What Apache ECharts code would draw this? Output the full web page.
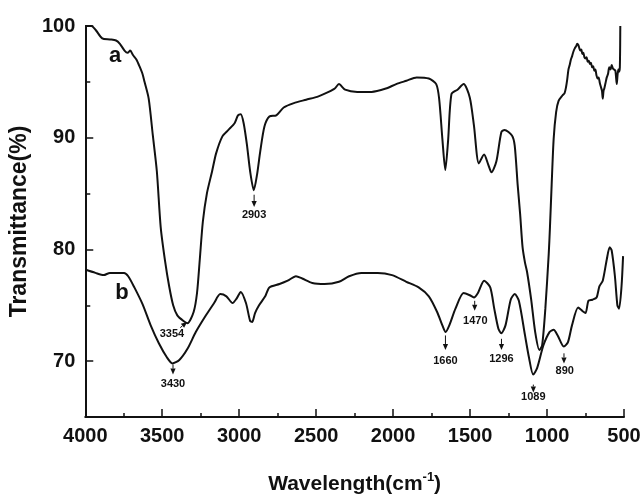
<!DOCTYPE html>
<html>
<head>
<meta charset="utf-8">
<script src="https://cdn.jsdelivr.net/npm/echarts@6/dist/echarts.min.js"></script>
<style>html,body{margin:0;padding:0;background:#fff}#c{width:644px;height:500px}</style>
</head>
<body>
<div id="c"></div>
<script>
// ---- data ----
var aWave = [4000,3960,3930,3890,3840,3800,3775,3745,3725,3708,3690,3668,3648,3628,3615,3588,3561,3535,3510,3482,3455,3429,3402,3362,3336,3296,3274,3256,3236,3210,3176,3150,3110,3070,3030,3008,2990,2971,2950,2929,2905,2884,2863,2836,2804,2759,2711,2645,2565,2485,2419,2379,2352,2312,2233,2140,2047,1980,1914,1847,1768,1720,1701,1680,1661,1643,1621,1582,1542,1502,1475,1443,1409,1382,1361,1329,1297,1276,1228,1210,1191,1175,1159,1143,1130,1103,1077,1050,1032,1011,989,981,970,957,941,925,899,886,877,869,861,853,845,837,829,820,811,804,797,790,784,777,771,764,757,750,743,736,729,722,715,707,700,693,686,679,672,665,657,649,643,638,633,628,620,612,604,596,588,580,572,564,556,547,542,537,532,527,524];
var aVal  = [100,100,99.6,98.9,98.8,98.7,98.4,97.8,97.6,97.8,97.4,97.0,96.4,95.7,95.0,93.5,90.2,87.0,82.0,79.0,76.7,75.0,74.1,73.6,73.4,74.4,76.1,79.1,82.5,85.0,87.0,88.6,90.1,90.7,91.3,92.0,92.1,91.3,89.4,87.0,85.3,86.7,88.8,91.0,91.9,92.0,92.7,93.1,93.4,93.7,94.1,94.4,94.8,94.3,94.1,94.1,94.4,94.8,95.1,95.4,95.3,94.8,93.5,89.9,87.1,89.7,93.9,94.3,94.8,93.6,91.1,87.7,88.5,87.6,86.9,87.9,90.5,90.7,90.2,89.3,85.8,83.2,80.2,78.8,78.0,75.5,72.6,71.0,71.4,74.7,79.6,82.0,85.8,89.9,92.3,93.3,93.8,94.0,94.5,95.2,96.1,96.5,97.0,97.3,97.7,98.0,98.2,98.4,98.3,98.0,97.8,97.9,97.5,97.6,97.2,97.1,97.2,96.8,96.9,96.6,96.7,96.3,96.4,96.0,96.1,95.6,95.3,95.4,94.9,94.5,94.2,93.5,94.2,94.4,94.9,95.4,95.7,96.3,96.1,96.5,96.2,96.1,96.0,94.8,95.6,96.1,95.9,96.3,100];
var bWave = [4000,3934,3880,3840,3748,3721,3681,3628,3575,3522,3468,3434,3389,3336,3282,3216,3163,3123,3083,3043,3017,2990,2956,2929,2916,2897,2871,2831,2804,2738,2685,2631,2591,2525,2445,2352,2286,2206,2100,2007,1914,1834,1768,1714,1680,1659,1635,1595,1542,1502,1475,1449,1409,1369,1343,1316,1297,1270,1236,1210,1183,1143,1117,1090,1064,1024,984,957,931,891,864,838,798,771,750,731,705,678,660,638,612,593,580,559,543,532,516,506];
var bVal  = [78.2,77.9,77.7,77.9,77.9,77.6,76.6,75.1,73.2,71.6,70.3,69.8,70.1,71.1,72.6,74.1,75.2,76.0,75.8,75.2,75.6,76.2,75.2,73.6,73.5,74.3,75.0,75.8,76.6,76.9,77.2,77.6,77.4,77.0,76.9,77.1,77.6,77.9,77.9,77.7,77.1,76.6,75.8,74.4,73.2,72.6,73.2,74.7,76.1,75.9,75.7,76.1,77.2,76.6,74.7,72.9,72.5,73.2,75.5,76.0,75.4,72.3,70.3,68.8,69.4,71.4,72.6,72.8,72.3,71.3,71.7,73.2,74.8,74.5,74.3,75.4,75.5,75.7,76.7,77.2,79.1,80.2,79.9,77.6,75.0,74.7,76.7,79.4];

var peakLabels = ['2903','3354','3430','1660','1470','1296','1089','890'];
var peakTextX  = [2903, 3437, 3430, 1660, 1466, 1296, 1089, 885];
var peakTextY  = [83.1, 72.4, 68.0, 70.0, 73.6, 70.2, 66.8, 69.1];
var arrowX1    = [2903, 3383, 3430, 1660, 1470, 1296, 1089, 890];
var arrowY1    = [84.9, 73.0, 69.7, 72.3, 75.4, 72.0, 67.9, 70.7];
var arrowX2    = [2903, 3338, 3430, 1660, 1470, 1296, 1089, 890];
var arrowY2    = [83.8, 73.5, 68.8, 71.0, 74.5, 71.0, 67.2, 69.8];

var curveTags  = ['a','b'];
var curveTagX  = [3806, 3761];
var curveTagY  = [97.3, 76.1];

var yMajor = [70,80,90,100];
var yMinor = [75,85,95];

// ---- build ----
function pairs(xs, ys){ var r=[]; for(var i=0;i<xs.length;i++) r.push([xs[i], ys[i]]); return r; }
var annData = [];
for (var i=0;i<peakLabels.length;i++) annData.push({name:peakLabels[i], value:[peakTextX[i],peakTextY[i],arrowX1[i],arrowY1[i],arrowX2[i],arrowY2[i]]});
var tagData = [];
for (var j=0;j<curveTags.length;j++) tagData.push({name:curveTags[j], value:[curveTagX[j],curveTagY[j]]});

var FONT = '"Liberation Sans", Arial, sans-serif';
var ink = '#111';

var chart = echarts.init(document.getElementById('c'), null, {renderer:'canvas'});
chart.setOption({
  animation:false,
  backgroundColor:'#fff',
  grid:{left:85, right:20, top:26, bottom:77, containLabel:false},
  xAxis:{
    type:'value', inverse:true, min:500, max:4000, interval:500,
    axisLine:{show:true, onZero:false, lineStyle:{color:ink, width:2}},
    axisTick:{show:true, inside:true, length:8, lineStyle:{color:ink, width:1.5}},
    minorTick:{show:true, splitNumber:2, length:4, lineStyle:{color:ink, width:1.5}},
    splitLine:{show:false},
    axisLabel:{margin:9, fontFamily:FONT, fontWeight:'bold', fontSize:20, color:ink,
      formatter:function(v){return String(v);}},
    name:'{a|Wavelength(cm}{s|-1}{a|)}', nameLocation:'middle', nameGap:54,
    nameTextStyle:{rich:{
      a:{fontFamily:FONT, fontWeight:'bold', fontSize:21, color:ink, lineHeight:24, verticalAlign:'bottom'},
      s:{fontFamily:FONT, fontWeight:'bold', fontSize:13, color:ink, lineHeight:24, verticalAlign:'top'}
    }}
  },
  yAxis:[{
    type:'value', min:65, max:100,
    axisLine:{show:true, onZero:false, lineStyle:{color:ink, width:2}},
    axisTick:{show:true, inside:true, length:8, customValues:yMajor, lineStyle:{color:ink, width:1.5}},
    splitLine:{show:false},
    axisLabel:{margin:10, fontFamily:FONT, fontWeight:'bold', fontSize:20, color:ink, customValues:yMajor},
    name:'Transmittance(%)', nameLocation:'middle', nameGap:39,
    nameTextStyle:{fontFamily:FONT, fontWeight:'bold', fontSize:23, color:ink}
  },{
    type:'value', min:65, max:100, position:'left',
    axisLine:{show:false},
    axisTick:{show:true, inside:true, length:5, customValues:yMinor, lineStyle:{color:ink, width:1.5}},
    splitLine:{show:false},
    axisLabel:{show:false}
  }],
  series:[
    {type:'line', name:'a', data:pairs(aWave,aVal), showSymbol:false, symbol:'none',
      lineStyle:{color:ink, width:2}, smooth:0.25, z:3},
    {type:'line', name:'b', data:pairs(bWave,bVal), showSymbol:false, symbol:'none',
      lineStyle:{color:ink, width:2}, smooth:0.25, z:3},
    {type:'custom', name:'peaks', data:annData, z:5,
      renderItem:function(params, api){
        var t = api.coord([api.value(0), api.value(1)]);
        var p1 = api.coord([api.value(2), api.value(3)]);
        var p2 = api.coord([api.value(4), api.value(5)]);
        var dx = p2[0]-p1[0], dy = p2[1]-p1[1];
        var L = Math.sqrt(dx*dx+dy*dy) || 1;
        var ux = dx/L, uy = dy/L, px = -uy, py = ux;
        var hl = 6, hw = 2.6;
        var base = [p2[0]-ux*hl, p2[1]-uy*hl];
        return {type:'group', children:[
          {type:'line', shape:{x1:p1[0], y1:p1[1], x2:base[0], y2:base[1]}, style:{stroke:ink, lineWidth:1}},
          {type:'polygon', shape:{points:[[p2[0],p2[1]],[base[0]+px*hw, base[1]+py*hw],[base[0]-px*hw, base[1]-py*hw]]}, style:{fill:ink}},
          {type:'text', x:t[0], y:t[1], style:{text:peakLabels[params.dataIndex], fill:ink, font:'bold 11px '+FONT, align:'center', verticalAlign:'middle'}}
        ]};
      }
    },
    {type:'custom', name:'tags', data:tagData, z:5,
      renderItem:function(params, api){
        var p = api.coord([api.value(0), api.value(1)]);
        return {type:'text', x:p[0], y:p[1], style:{text:curveTags[params.dataIndex], fill:ink, font:'bold 22px '+FONT, align:'center', verticalAlign:'middle'}};
      }
    }
  ]
});
</script>
</body>
</html>
